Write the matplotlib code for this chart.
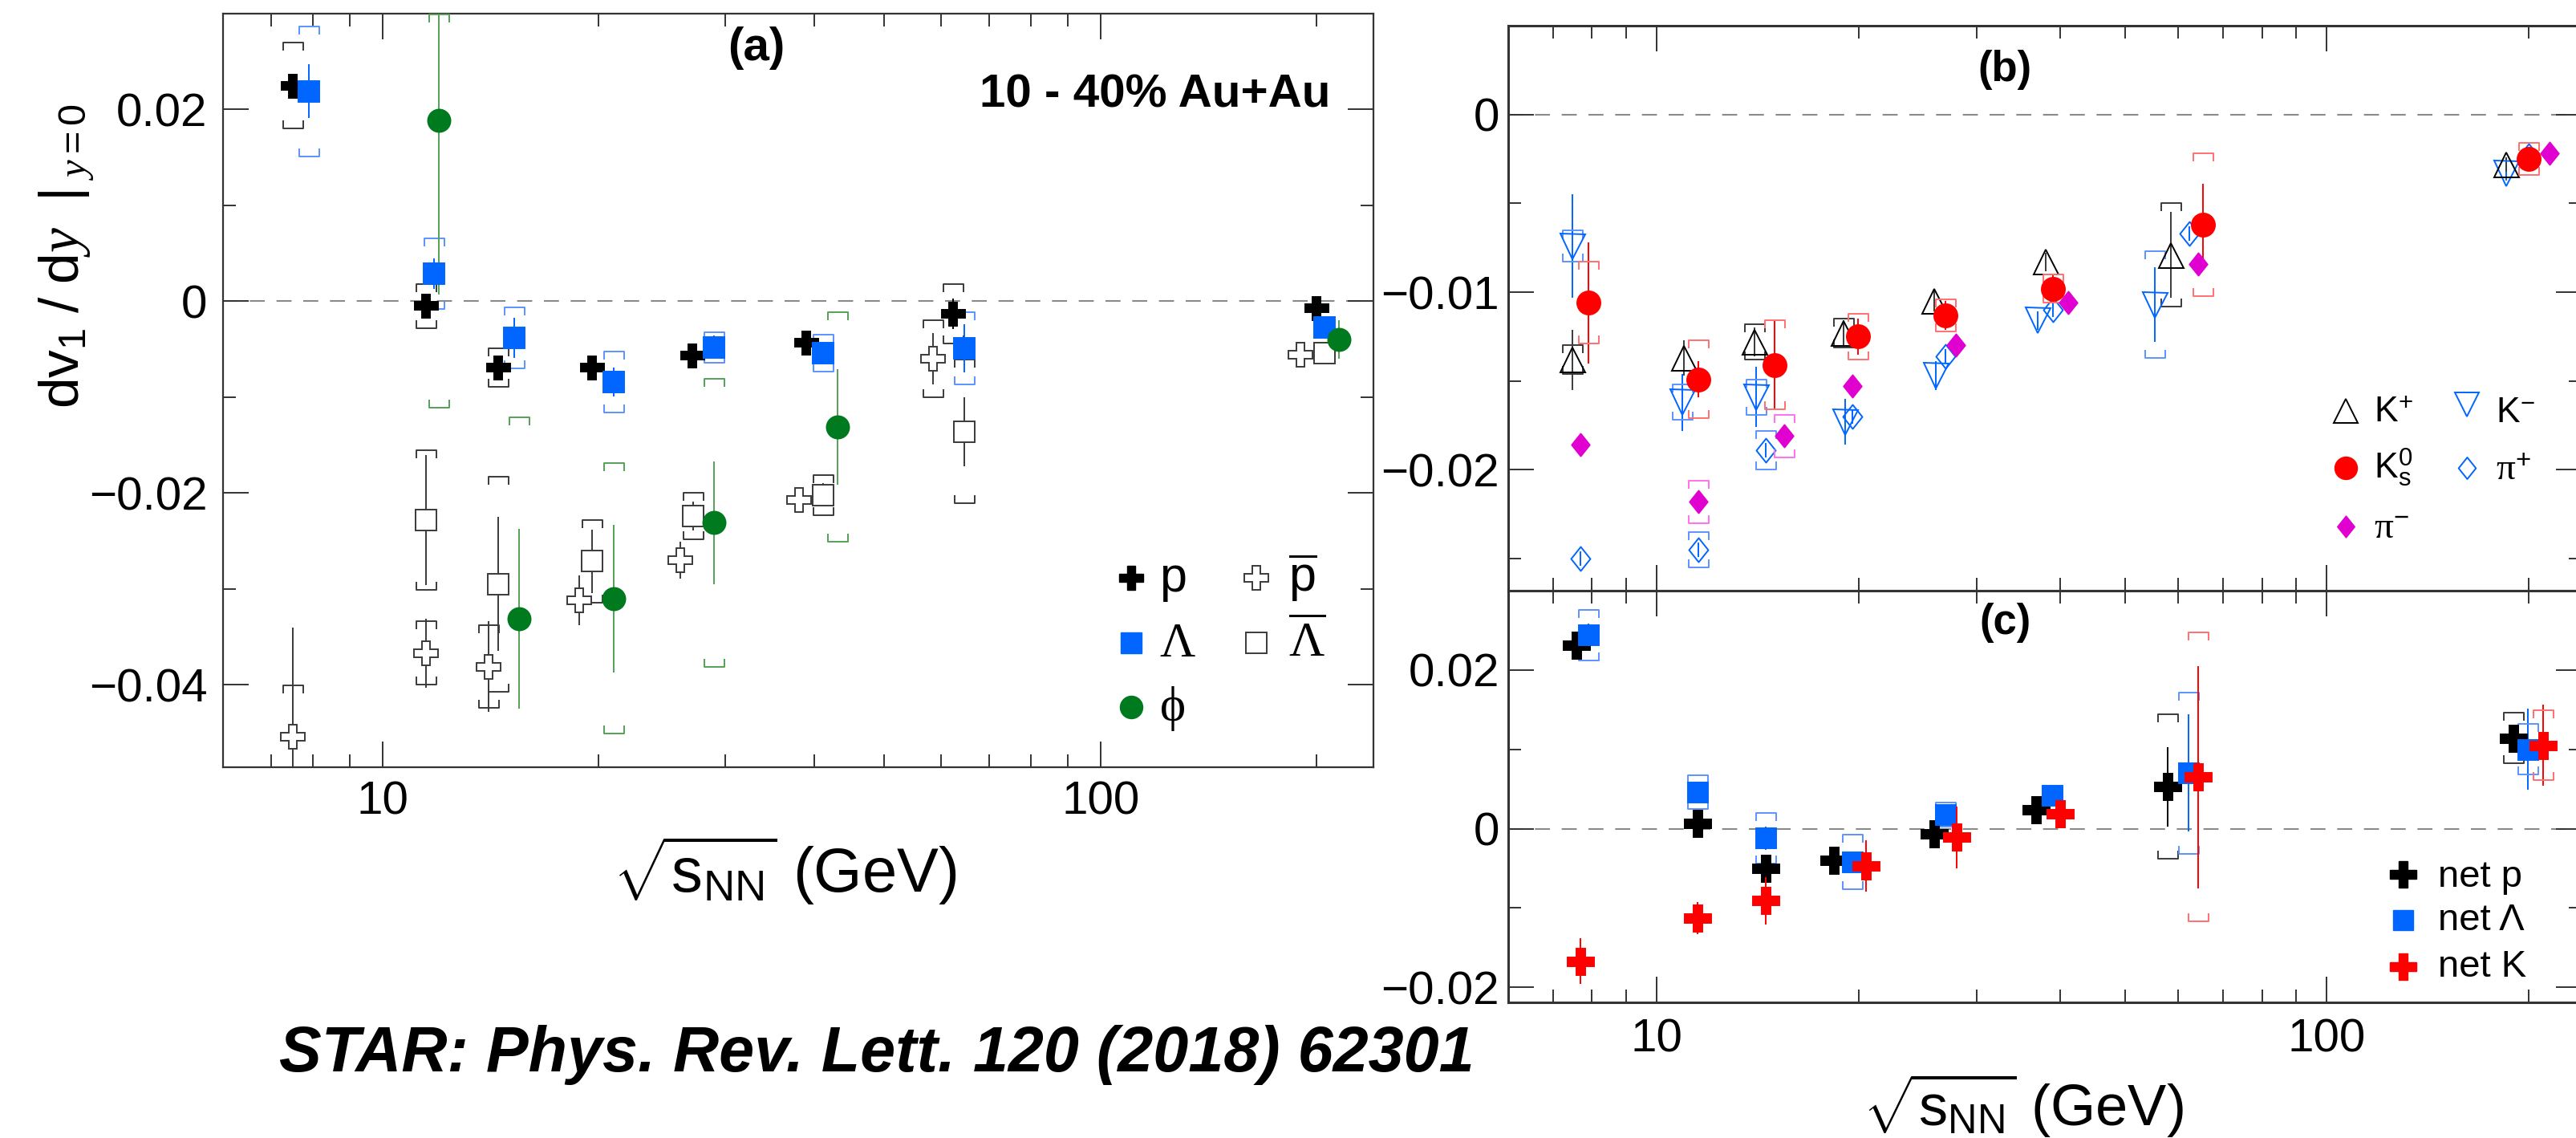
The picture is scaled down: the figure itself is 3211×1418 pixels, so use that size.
import numpy as np
import matplotlib
matplotlib.use("Agg")
import matplotlib.pyplot as plt
from matplotlib.path import Path
from matplotlib.ticker import MultipleLocator, LogLocator, NullFormatter, FixedLocator, FuncFormatter

plt.rcParams['font.family'] = 'Liberation Sans'
plt.rcParams['mathtext.fontset'] = 'custom'
plt.rcParams['mathtext.rm'] = 'Liberation Sans'
plt.rcParams['mathtext.it'] = 'Liberation Serif:italic'
plt.rcParams['mathtext.sf'] = 'Liberation Serif'
plt.rcParams['mathtext.bf'] = 'Liberation Sans:bold'

nan = np.nan

# ---- panel (a): baryons / phi, 10-40% Au+Au ----
E_p = [7.5, 11.5, 14.5, 19.6, 27.0, 38.9, 62.4, 200]
v_p = [0.0225, -0.0005, -0.0069, -0.0069, -0.0057, -0.0043, -0.0013, -0.0007]
err_p = [0.0004, 0.0004, 0.0004, 0.0004, 0.0004, 0.0004, 0.0016, 0.0004]
sys_p = [0.0045, 0.0023, 0.0020, nan, nan, nan, 0.0031, nan]

E_lam = [7.9, 11.8, 15.25, 21.0, 29.0, 41.1, 64.6, 205]
v_lam = [0.0219, 0.0029, -0.0038, -0.0084, -0.0048, -0.0054, -0.0049, -0.0027]
err_lam = [0.0028, 0.0016, 0.0021, 0.0015, 0.0012, 0.0010, 0.0025, 0.0004]
sys_lam = [0.0068, 0.0037, 0.0032, 0.0032, 0.0016, 0.0019, 0.0038, nan]

E_phi = [12.0, 15.5, 21.0, 29.0, 43.0, 215]
v_phi = [0.0189, -0.0331, -0.0310, -0.0231, -0.0131, -0.0040]
err_phi = [0.0182, 0.0094, 0.0077, 0.0064, 0.0060, 0.0020]
sys_phi_lo = [0.0300, 0.0210, 0.0141, 0.0150, 0.0120, nan]
sys_phi_hi = [0.0110, 0.0210, 0.0141, 0.0150, 0.0120, nan]

E_pbar = [7.5, 11.5, 14.05, 18.8, 26.0, 38.0, 58.4, 190]
v_pbar = [-0.0454, -0.0367, -0.0381, -0.0312, -0.0270, -0.0207, -0.0060, -0.0056]
err_pbar = [0.0114, 0.0036, 0.0047, 0.0026, 0.0019, 0.0008, 0.0027, 0.0004]
sys_pbar = [0.0053, 0.0033, 0.0043, nan, nan, nan, 0.0040, nan]

E_lbar = [11.5, 14.5, 19.6, 27.1, 41.1, 64.6, 205]
v_lbar = [-0.0228, -0.0295, -0.0271, -0.0224, -0.0202, -0.0136, -0.0054]
err_lbar = [0.0068, 0.0070, 0.0033, 0.0015, 0.0012, 0.0036, 0.0004]
sys_lbar = [0.0073, 0.0112, 0.0043, 0.0024, 0.0021, 0.0075, nan]

# ---- panel (b): mesons ----
E_kp = [7.49, 10.98, 14.0, 18.97, 25.97, 38.07, 58.5, 185]
v_kp = [-0.0138, -0.0137, -0.0128, -0.0123, -0.0105, -0.0083, -0.0079, -0.0028]
err_kp = [0.0017, 0.0010, 0.0008, 0.0007, 0.0006, 0.0005, 0.0024, 0.0004]
sys_kp = [0.0008, nan, 0.0010, 0.0008, nan, nan, 0.0029, nan]

E_km = [7.49, 10.92, 14.05, 19.08, 26.05, 37.0, 55.3, 185]
v_km = [-0.0074, -0.0162, -0.0159, -0.0173, -0.0147, -0.0116, -0.0107, -0.0033]
err_km = [0.0029, 0.0016, 0.0017, 0.0013, 0.0008, 0.0005, 0.0021, 0.0004]
sys_km = [0.0009, 0.0010, 0.0010, nan, nan, nan, 0.0030, nan]

E_k0 = [7.91, 11.52, 15.0, 19.95, 26.95, 39.05, 65.4, 200]
v_k0 = [-0.0106, -0.0149, -0.0141, -0.0125, -0.0113, -0.0098, -0.0062, -0.0025]
err_k0 = [0.0034, 0.0010, 0.0025, 0.0010, 0.0008, 0.0008, 0.0023, 0.0004]
sys_k0 = [0.0023, 0.0022, 0.0025, 0.0013, 0.0009, 0.0008, 0.0040, 0.0009]

E_pim = [7.70, 11.52, 15.47, 19.56, 27.96, 41.1, 64.3, 215]
v_pim = [-0.0186, -0.0218, -0.0181, -0.0153, -0.0130, -0.0106, -0.0084, -0.0022]
err_pim = [0.0004] * 8
sys_pim = [nan, 0.0012, 0.0012, nan, nan, nan, nan, nan]

E_pip = [7.70, 11.52, 14.54, 19.56, 26.95, 39.05, 62.3, 200]
v_pip = [-0.0250, -0.0245, -0.0189, -0.0170, -0.0136, -0.0110, -0.0067, -0.0023]
err_pip = [0.0004] * 8
sys_pip = [nan, 0.0010, 0.0011, nan, nan, nan, nan, nan]

# ---- panel (c): net particles ----
E_np = [7.58, 11.49, 14.54, 18.39, 25.97, 36.8, 57.9, 190]
v_np = [0.0231, 0.0007, -0.0050, -0.0040, -0.0007, 0.0024, 0.0053, 0.0114]
err_np = [0.0008, 0.0008, 0.0016, 0.0008, 0.0008, 0.0008, 0.0050, 0.0010]
sys_np = [nan, nan, nan, nan, nan, nan, 0.0091, 0.0032]

E_nl = [7.91, 11.49, 14.54, 19.56, 26.95, 38.95, 62.1, 199.5]
v_nl = [0.0244, 0.0046, -0.0012, -0.0042, 0.0018, 0.0042, 0.0070, 0.0100]
err_nl = [0.0015, 0.0012, 0.0015, 0.0010, 0.0012, 0.0010, 0.0074, 0.0051]
sys_nl = [0.0032, 0.0021, 0.0032, 0.0034, 0.0015, 0.0010, 0.0102, 0.0032]

E_nk = [7.70, 11.49, 14.54, 20.53, 28.04, 39.95, 64.3, 210]
v_nk = [-0.0167, -0.0113, -0.0091, -0.0047, -0.0011, 0.0019, 0.0065, 0.0105]
err_nk = [0.0029, 0.0020, 0.0030, 0.0032, 0.0039, 0.0015, 0.0140, 0.0051]
sys_nk = [nan, nan, nan, nan, nan, nan, 0.0182, 0.0044]

W, H = 3211, 1418
fig = plt.figure(figsize=(W / 100, H / 100), dpi=100)

PT = 0.72  # pixel -> point at 100 dpi

TOP = Path([(-0.5, -0.4), (-0.5, 0), (0.5, 0), (0.5, -0.4)],
           [Path.MOVETO, Path.LINETO, Path.LINETO, Path.LINETO])
BOT = Path([(-0.5, 0.4), (-0.5, 0), (0.5, 0), (0.5, 0.4)],
           [Path.MOVETO, Path.LINETO, Path.LINETO, Path.LINETO])
DIAM = Path([(0, 0.5), (0.4, 0), (0, -0.5), (-0.4, 0), (0, 0.5)],
            [Path.MOVETO, Path.LINETO, Path.LINETO, Path.LINETO, Path.CLOSEPOLY])


def series(ax, x, y, err, sys_lo, sys_hi, marker, ms, mec, mfc, ecol, scol, z=3, bw=25, mew=1.4):
    x = np.asarray(x, float)
    y = np.asarray(y, float)
    ax.errorbar(x, y, yerr=err, fmt='none', ecolor=ecol, elinewidth=1.4, capsize=0, zorder=z - 1)
    if sys_lo is not None:
        ax.plot(x, y + np.asarray(sys_hi, float), ls='none', marker=TOP, ms=bw * PT,
                mec=scol, mfc='none', mew=1.4, zorder=z - 1)
        ax.plot(x, y - np.asarray(sys_lo, float), ls='none', marker=BOT, ms=bw * PT,
                mec=scol, mfc='none', mew=1.4, zorder=z - 1)
    ax.plot(x, y, ls='none', marker=marker, ms=ms * PT, mec=mec, mfc=mfc, mew=mew, zorder=z)


def yfmt(v, pos):
    if abs(v) < 1e-9:
        return '0'
    return ('%.2f' % v).replace('-', '\u2212')


def style(ax, ylim, major, minor, ypad, xpad, lw):
    ax.set_xscale('log')
    ax.set_xlim(6, 240)
    ax.set_ylim(*ylim)
    ax.xaxis.set_major_locator(FixedLocator([10, 100]))
    ax.xaxis.set_major_formatter(FuncFormatter(lambda v, p: '%d' % v))
    ax.xaxis.set_minor_locator(LogLocator(base=10, subs=np.arange(2, 10)))
    ax.xaxis.set_minor_formatter(NullFormatter())
    ax.yaxis.set_major_locator(MultipleLocator(major))
    ax.yaxis.set_minor_locator(MultipleLocator(minor))
    ax.yaxis.set_major_formatter(FuncFormatter(yfmt))
    ax.tick_params(which='both', direction='in', top=True, right=True, width=1.4, color='#333333')
    ax.tick_params(which='major', length=23)
    ax.tick_params(which='minor', length=11.5)
    ax.tick_params(axis='y', labelsize=42, pad=ypad)
    ax.tick_params(axis='x', labelsize=42, pad=xpad)
    for s in ax.spines.values():
        s.set_linewidth(lw)
        s.set_color('#333333')
    ax.axhline(0, color='#8a8a8a', ls=(0, (9, 7)), lw=1.5, zorder=0)


ax_a = fig.add_axes([278 / W, 1 - 956 / H, (1712 - 278) / W, (956 - 17) / H])
ax_b = fig.add_axes([1880 / W, 1 - 736 / H, (3218 - 1880) / W, (736 - 32) / H])
ax_c = fig.add_axes([1880 / W, 1 - 1249 / H, (3218 - 1880) / W, (1249 - 736) / H])

style(ax_a, (-0.0486, 0.030), 0.02, 0.01, 14, 12, 1.6)
style(ax_b, (-0.0268, 0.005), 0.01, 0.005, 8, 14, 2.2)
style(ax_c, (-0.0219, 0.030), 0.02, 0.01, 8, 14, 2.2)
ax_b.tick_params(axis='x', labelbottom=False)

BLUE = '#0066ff'
LBLUE = '#5b93ff'
GREEN = '#007a1e'
LGREEN = '#55a055'
RED = '#ff0000'
LRED = '#ff7070'
MAG = '#e000d0'
LMAG = '#ff70ee'
GREY = '#3a3a3a'

# panel (a)
series(ax_a, E_pbar, v_pbar, err_pbar, sys_pbar, sys_pbar, 'P', 30, GREY, 'white', GREY, GREY, z=3)
series(ax_a, E_lbar, v_lbar, err_lbar, sys_lbar, sys_lbar, 's', 26, GREY, 'white', GREY, GREY, z=3)
series(ax_a, E_p, v_p, err_p, sys_p, sys_p, 'P', 29, 'black', 'black', 'black', GREY, z=5)
series(ax_a, E_lam, v_lam, err_lam, sys_lam, sys_lam, 's', 26, BLUE, BLUE, BLUE, LBLUE, z=5)
series(ax_a, E_phi, v_phi, err_phi, sys_phi_lo, sys_phi_hi, 'o', 28, GREEN, GREEN, LGREEN, LGREEN, z=5)

# panel (b)
series(ax_b, E_pip, v_pip, err_pip, sys_pip, sys_pip, DIAM, 30, BLUE, 'none', BLUE, LBLUE, z=3)
series(ax_b, E_km, v_km, err_km, sys_km, sys_km, 'v', 31, BLUE, 'none', BLUE, LBLUE, z=3)
series(ax_b, E_kp, v_kp, err_kp, sys_kp, sys_kp, '^', 31, 'black', 'none', GREY, GREY, z=3)
series(ax_b, E_pim, v_pim, err_pim, sys_pim, sys_pim, DIAM, 28, MAG, MAG, MAG, LMAG, z=5)
series(ax_b, E_k0, v_k0, err_k0, sys_k0, sys_k0, 'o', 29, RED, RED, RED, LRED, z=5)

# panel (c)
series(ax_c, E_np, v_np, err_np, sys_np, sys_np, 'P', 33, 'black', 'black', 'black', GREY, z=5)
series(ax_c, E_nl, v_nl, err_nl, sys_nl, sys_nl, 's', 25, BLUE, BLUE, BLUE, LBLUE, z=5)
series(ax_c, E_nk, v_nk, err_nk, sys_nk, sys_nk, 'P', 33, RED, RED, RED, LRED, z=6)


def key(ax, xm, ym, xt, yt, label, fs, family=None, **mk):
    ax.plot([xm], [ym], transform=ax.transAxes, ls='none', clip_on=False, **mk)
    kw = {}
    if family:
        kw['family'] = family
    ax.text(xt, yt, label, transform=ax.transAxes, ha='left', va='baseline', fontsize=fs, **kw)


# legend (a)
key(ax_a, 0.7894, 0.2513, 0.8138, 0.2330, r'$\mathrm{p}$', 44, marker='P', ms=30 * PT, mec='black', mfc='black')
key(ax_a, 0.7894, 0.1651, 0.8138, 0.1468, r'$\mathsf{Λ}$', 44, marker='s', ms=26 * PT, mec=BLUE, mfc=BLUE)
key(ax_a, 0.7894, 0.0799, 0.8138, 0.0616, r'$\mathsf{ϕ}$', 44, marker='o', ms=28 * PT, mec=GREEN, mfc=GREEN)
key(ax_a, 0.8982, 0.2513, 0.9261, 0.2330, r'$\overline{\mathrm{p}}$', 44, marker='P', ms=30 * PT, mec=GREY, mfc='white', mew=1.4)
key(ax_a, 0.8982, 0.1651, 0.9261, 0.1468, r'$\overline{\mathsf{Λ}}$', 44, marker='s', ms=26 * PT, mec=GREY, mfc='white', mew=1.4)

# legend (b)
key(ax_b, 0.7803, 0.3182, 0.8064, 0.2983, r'$\mathrm{K}^{+}$', 32, marker='^', ms=30 * PT, mec='black', mfc='none', mew=1.4)
key(ax_b, 0.8931, 0.3295, 0.9200, 0.2983, r'$\mathrm{K}^{-}$', 32, marker='v', ms=30 * PT, mec=BLUE, mfc='none', mew=1.4)
key(ax_b, 0.7803, 0.2173, 0.8064, 0.1989, r'$\mathrm{K}^{0}_{\mathrm{s}}$', 32, marker='o', ms=28 * PT, mec=RED, mfc=RED)
key(ax_b, 0.8931, 0.2173, 0.9200, 0.1960, r'$\mathsf{π}^{+}$', 34, marker=DIAM, ms=27 * PT, mec=BLUE, mfc='none', mew=1.4)
key(ax_b, 0.7803, 0.1136, 0.8064, 0.0923, r'$\mathsf{π}^{-}$', 34, marker=DIAM, ms=27 * PT, mec=MAG, mfc=MAG)

# legend (c)
key(ax_c, 0.8333, 0.3119, 0.8662, 0.2807, 'net p', 34, marker='P', ms=33 * PT, mec='black', mfc='black')
key(ax_c, 0.8333, 0.2008, 0.8662, 0.1754, 'net \u039b', 34, marker='s', ms=25 * PT, mec=BLUE, mfc=BLUE)
key(ax_c, 0.8333, 0.0877, 0.8662, 0.0624, 'net K', 34, marker='P', ms=33 * PT, mec=RED, mfc=RED)

# panel tags and annotations
ax_a.text((943 - 278) / 1434, (956 - 60) / 939, '(a)', transform=ax_a.transAxes,
          ha='center', va='center', fontsize=42, weight='bold')
ax_a.text((1659 - 278) / 1434, (956 - 118) / 939, '10 - 40% Au+Au', transform=ax_a.transAxes,
          ha='right', va='center', fontsize=42, weight='bold')
ax_b.text((2499 - 1880) / 1338, (736 - 87) / 704, '(b)', transform=ax_b.transAxes,
          ha='center', va='center', fontsize=38, weight='bold')
ax_c.text((2500 - 1880) / 1338, (1249 - 776) / 513, '(c)', transform=ax_c.transAxes,
          ha='center', va='center', fontsize=38, weight='bold')

fig.text(83 / W, 1 - 319 / H, r'$\mathrm{dv}_{1}\ /\ \mathrm{d}\mathit{y}\ \ \mathrm{|}_{\ \mathit{y}\mathrm{=0}}$',
         rotation=90, ha='center', va='center', fontsize=50)
fig.text(978 / W, 1 - 1085 / H, r'$\sqrt{\mathrm{s}_{\mathrm{NN}}}$ (GeV)', ha='center', va='center', fontsize=56)
fig.text(2522 / W, 1 - 1378 / H, r'$\sqrt{\mathrm{s}_{\mathrm{NN}}}$ (GeV)', ha='center', va='center', fontsize=52)
fig.text(348 / W, 1 - 1335 / H, 'STAR: Phys. Rev. Lett. 120 (2018) 62301', ha='left', va='baseline',
         fontsize=57, weight='bold', style='italic')

fig.savefig('out.png', dpi=100, facecolor='white')
